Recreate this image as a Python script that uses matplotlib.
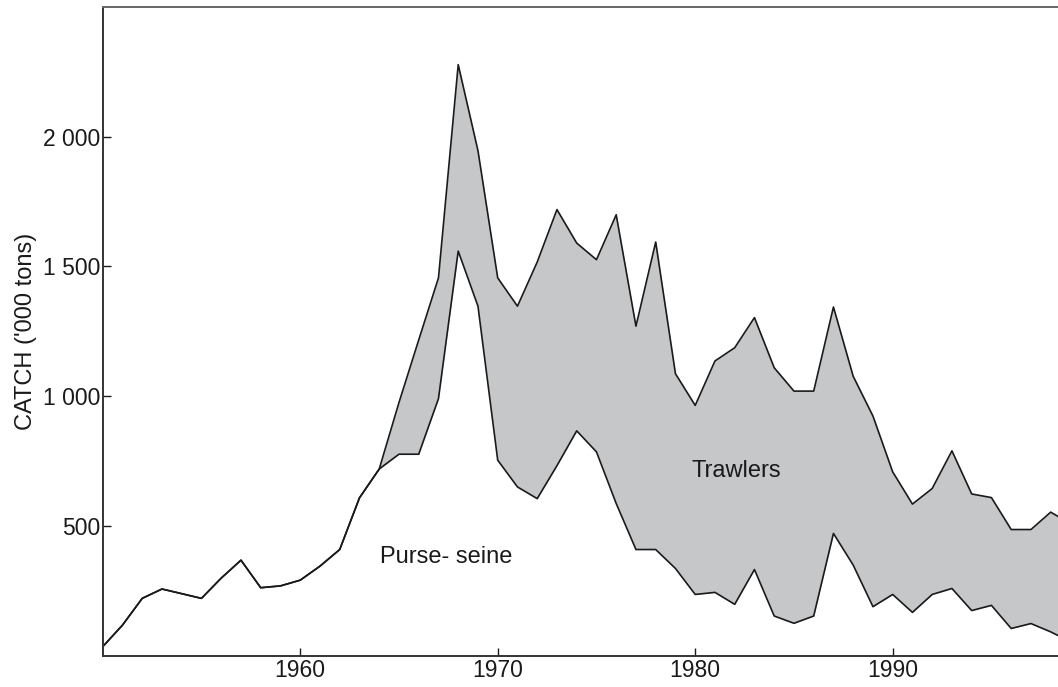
import matplotlib.pyplot as plt

plt.rcParams['font.family'] = ['Liberation Sans', 'DejaVu Sans']

years = list(range(1950, 2000))

# purse-seine catch ('000 tons)
purse_seine = [36, 119, 222, 258, 240, 222, 300, 369, 263, 270,
               292, 346, 410, 609, 720, 777, 777, 991, 1559, 1347,
               754, 651, 606, 733, 867, 786, 587, 410, 410, 337,
               237, 245, 199, 333, 154, 126, 154, 472, 350, 190,
               237, 168, 237, 260, 175, 195, 106, 125, 93, 55]

# total catch = purse-seine + trawlers
total = [36, 119, 222, 258, 240, 222, 300, 369, 263, 270,
         292, 346, 410, 609, 720, 976, 1217, 1456, 2277, 1946,
         1456, 1347, 1517, 1719, 1590, 1526, 1699, 1270, 1594, 1087,
         965, 1136, 1187, 1303, 1110, 1020, 1020, 1344, 1077, 924,
         709, 585, 645, 790, 624, 610, 487, 487, 554, 510]

x_ticks = [1960, 1970, 1980, 1990]
y_ticks = [500, 1000, 1500, 2000]
y_tick_labels = ['500', '1 000', '1 500', '2 000']

fig = plt.figure(figsize=(10.58, 6.87), dpi=100)
ax = fig.add_axes([0.0971, 0.0451, 0.9029, 0.9451])

ax.fill_between(years, purse_seine, total, color='#c6c7c9', linewidth=0)
ax.plot(years, total, color='#1a1a1a', linewidth=1.2)
ax.plot(years, purse_seine, color='#1a1a1a', linewidth=1.2)

ax.text(1967.4, 382, 'Purse- seine', fontsize=17, ha='center', va='center', color='#1a1a1a')
ax.text(1982.1, 711, 'Trawlers', fontsize=17, ha='center', va='center', color='#1a1a1a')

ax.set_xlim(1950, 1998.37)
ax.set_ylim(0, 2500)
ax.set_xticks(x_ticks)
ax.set_yticks(y_ticks)
ax.set_yticklabels(y_tick_labels)
ax.tick_params(direction='in', length=6, width=1, labelsize=16.5, colors='#1a1a1a', pad=2)
ax.set_ylabel("CATCH ('000 tons)", fontsize=17, color='#1a1a1a', labelpad=4)

ax.spines['right'].set_visible(False)
for side in ['left', 'bottom']:
    ax.spines[side].set_linewidth(1.4)
    ax.spines[side].set_color('#333333')
ax.spines['top'].set_linewidth(1.4)
ax.spines['top'].set_color('#666666')

plt.savefig('out.png', dpi=100)
